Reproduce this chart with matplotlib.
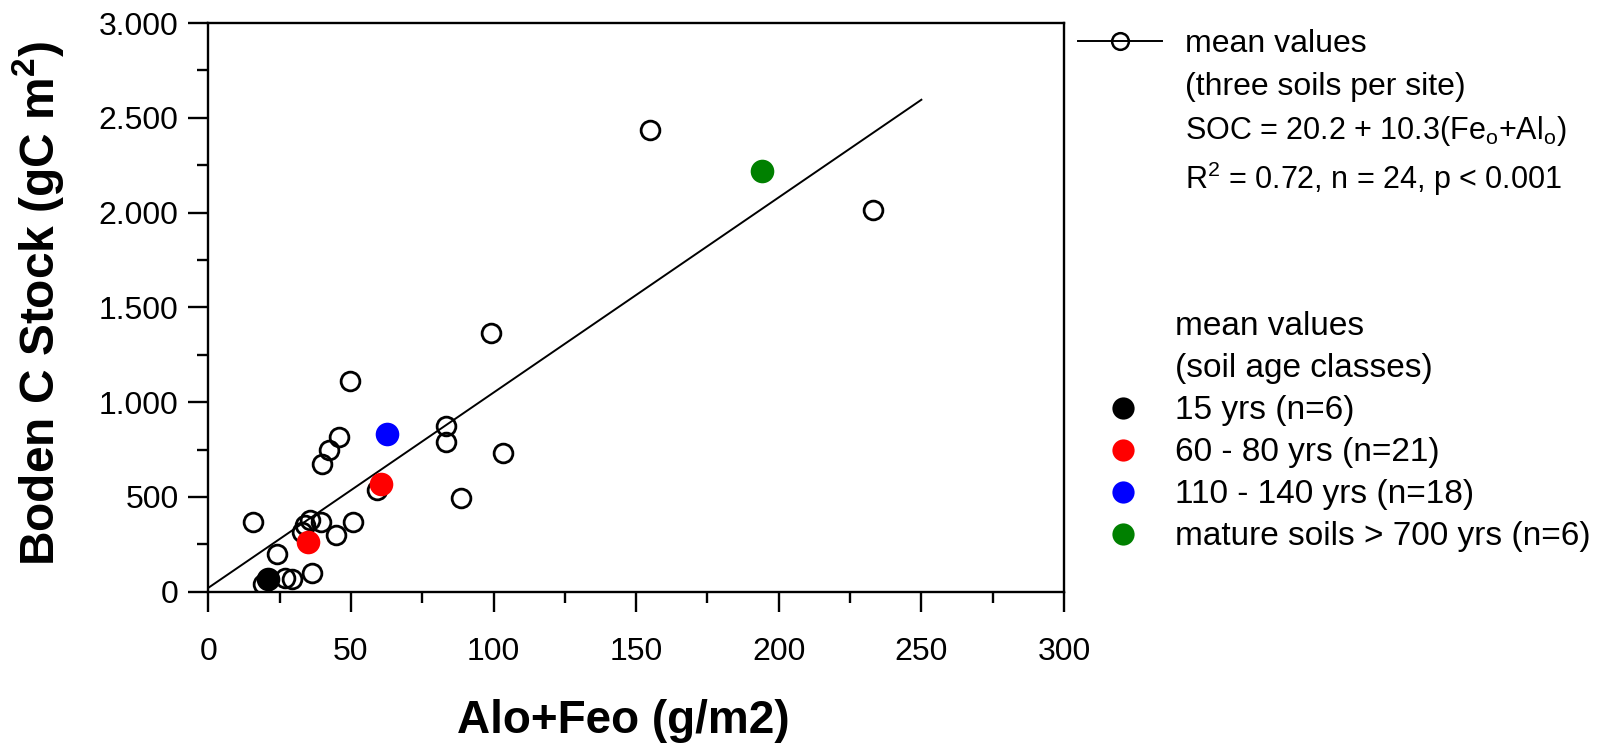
import numpy as np
import matplotlib
matplotlib.use("Agg")
import matplotlib.pyplot as plt
from matplotlib.lines import Line2D
from matplotlib.ticker import MultipleLocator

plt.rcParams['font.family'] = ['Liberation Sans', 'DejaVu Sans']

# site means (three soils per site)
site_x = [154.8, 233.1, 99.1, 49.7, 83.5, 83.3, 103.4, 45.9, 42.4, 39.7, 59.2, 88.5,
          15.6, 35.8, 39.5, 34.0, 32.7, 50.8, 44.8, 24.2, 36.3, 19.1, 26.9, 29.2]
site_y = [2435, 2011, 1365, 1109, 872, 792, 734, 814, 745, 674, 534, 495,
          365, 380, 368, 350, 317, 365, 299, 199, 100, 41, 71, 67]

# soil age class means
class_labels = ['15 yrs (n=6)', '60 - 80 yrs (n=21)', '110 - 140 yrs (n=18)',
                'mature soils > 700 yrs (n=6)']
class_colors = ['black', '#ff0000', '#0000ff', '#008000']
class_x = [[21.0], [34.9, 60.4], [62.5], [194.3]]
class_y = [[67], [261, 569], [831], [2220]]

# regression SOC = 20.2 + 10.3(Feo+Alo)
fit_a = 20.2
fit_b = 10.3
fit_xmax = 250

xticks = [0, 50, 100, 150, 200, 250, 300]
yticks = [0, 500, 1000, 1500, 2000, 2500, 3000]
ytick_labels = ['0', '500', '1.000', '1.500', '2.000', '2.500', '3.000']

fig = plt.figure(figsize=(16.06, 7.45), dpi=100)
ax = fig.add_axes([0.1297, 0.2058, 0.5328, 0.7633])

xf = np.array([0, fit_xmax])
ax.plot(xf, fit_a + fit_b * xf, color='black', lw=1.4, zorder=2)

ax.plot(site_x, site_y, linestyle='none', marker='o', ms=13.5, mfc='none',
        mec='black', mew=2.0, zorder=3)
for xs, ys, c in zip(class_x, class_y, class_colors):
    ax.plot(xs, ys, linestyle='none', marker='o', ms=17, color=c, mew=0, zorder=4)

ax.set_xlim(0, 300)
ax.set_ylim(0, 3000)
ax.set_xticks(xticks)
ax.set_yticks(yticks)
ax.set_yticklabels(ytick_labels)
ax.xaxis.set_minor_locator(MultipleLocator(25))
ax.yaxis.set_minor_locator(MultipleLocator(250))
ax.tick_params(which='major', direction='out', length=14.4, width=1.7,
               labelsize=23)
ax.tick_params(which='minor', direction='out', length=8, width=1.7)
ax.tick_params(axis='x', which='major', pad=18)
ax.tick_params(axis='y', which='major', pad=7)
for s in ax.spines.values():
    s.set_linewidth(1.7)

ax.set_xlabel('Alo+Feo (g/m2)', fontsize=33, fontweight='bold')
ax.xaxis.label.set_va('baseline')
ax.xaxis.set_label_coords(0.4846, -0.2485)
ax.set_ylabel(r'Boden C Stock (gC m$^\mathregular{2}$)', fontsize=34.5,
              fontweight='bold')
ax.yaxis.label.set_va('center')
ax.yaxis.set_label_coords(-0.1996, 0.5068)

# legend 1: site means and regression
blank = Line2D([], [], linestyle='none')
h1 = Line2D([], [], color='black', lw=1.4, marker='o', ms=12, mfc='none',
            mec='black', mew=1.8)
leg1 = ax.legend([h1, blank, blank, blank],
                 ['mean values', '(three soils per site)',
                  r'SOC = 20.2 + 10.3(Fe$_\mathregular{o}$+Al$_\mathregular{o}$)',
                  r'R$^\mathregular{2}$ = 0.72, n = 24, p < 0.001'],
                 loc='upper left', bbox_to_anchor=(0.6712, 0.9605),
                 bbox_transform=fig.transFigure, frameon=False, fontsize=23,
                 handlelength=2.63, handletextpad=0.72, labelspacing=0.38,
                 borderpad=0, borderaxespad=0, numpoints=1)
for t in leg1.get_texts()[2:]:
    t.set_fontsize(22)
ax.add_artist(leg1)

# legend 2: soil age classes
hs = [blank, blank] + [Line2D([], [], linestyle='none', marker='o', ms=16,
                              color=c, mew=0) for c in class_colors]
ax.legend(hs, ['mean values', '(soil age classes)'] + class_labels,
          loc='upper left', bbox_to_anchor=(0.6793, 0.582),
          bbox_transform=fig.transFigure, frameon=False, fontsize=24,
          handlelength=1.92, handletextpad=0.6, labelspacing=0.33,
          borderpad=0, borderaxespad=0, numpoints=1)

fig.savefig('out.png', dpi=100)
